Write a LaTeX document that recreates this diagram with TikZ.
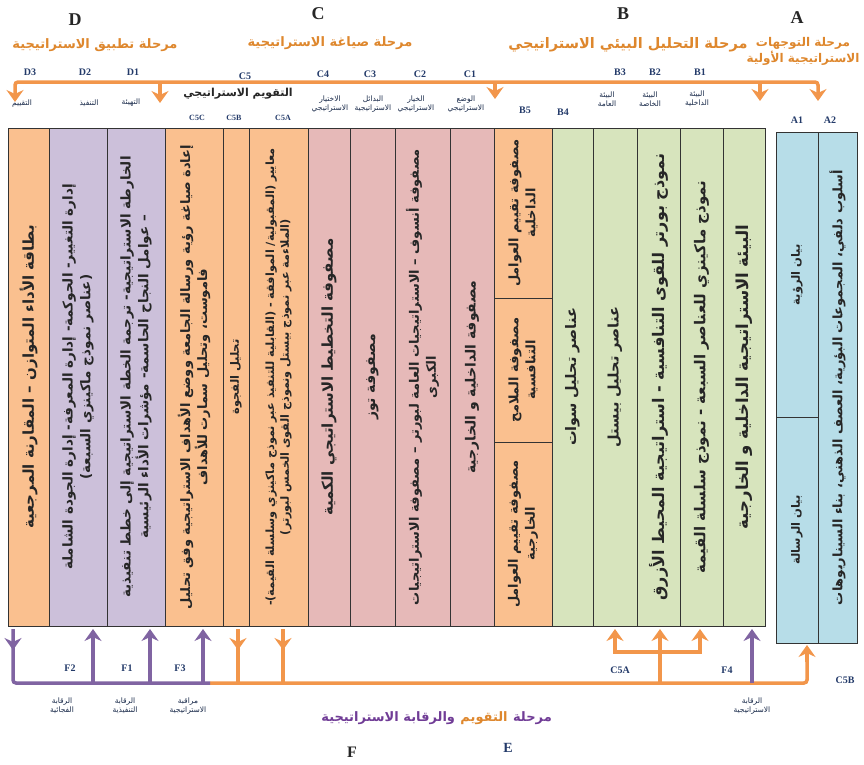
\documentclass[tikz,border=0pt]{standalone}
\usepackage{fontspec}
\setmainfont{Liberation Serif}
\newfontfamily\arabicfont[Script=Arabic]{DejaVu Sans}
\TeXXeTstate=1
\usepackage{tikz}
\usetikzlibrary{arrows.meta,positioning,decorations.markings}

\definecolor{Peach}{RGB}{250,192,143}
\definecolor{Lilac}{RGB}{204,192,218}
\definecolor{Rose}{RGB}{230,185,184}
\definecolor{Sage}{RGB}{215,228,189}
\definecolor{Sky}{RGB}{183,221,232}
\definecolor{FlowOrange}{RGB}{242,150,75}
\definecolor{FlowPurple}{RGB}{128,100,162}
\definecolor{TitleOrange}{RGB}{222,135,45}
\definecolor{TitlePurple}{RGB}{112,60,150}
\definecolor{Navy}{RGB}{35,58,105}

\newcommand\ar[1]{\beginR #1\endR}
\newcommand\cellfont[1]{\arabicfont\bfseries\fontsize{#1}{\dimexpr #1pt*13/10\relax}\selectfont}

\begin{document}
\begin{tikzpicture}[x=1pt, y=-1pt,
  Cell/.style={draw=black!80, line width=0.9pt, rotate=90, inner sep=2pt, align=center, text=black!85},
  Phase/.style={font=\arabicfont\bfseries\fontsize{13}{16}\selectfont, text=TitleOrange, align=center, inner sep=1pt},
  Letter/.style={font=\bfseries\fontsize{18}{20}\selectfont, text=black!85},
  Tag/.style={font=\bfseries\fontsize{10}{12}\selectfont, text=Navy, inner sep=1pt},
  Note/.style={font=\arabicfont\fontsize{7.5}{9}\selectfont, text=Navy!70!black, align=center, inner sep=1pt},
  Flow/.style={line width=3.5pt, draw=FlowOrange, -{Stealth[length=12pt,width=17pt,inset=4pt]}},
  FlowLine/.style={line width=3.5pt, draw=FlowOrange},
  FlowMark/.style={line width=3.5pt, draw=FlowOrange, postaction={decorate},
    decoration={markings, mark=at position 21pt with {\arrow{Stealth[length=12pt,width=17pt,inset=4pt]}}}}]

\useasboundingbox (0,0) rectangle (864,764);

% main table
\foreach \xa/\xb/\clr/\fs/\name/\txt in {
  8/49/Peach/15/d3/{\ar{بطاقة الأداء المتوازن – المقارنة المرجعية}},
  49/107/Lilac/13.5/d2/{\ar{إدارة التغيير- الحوكمة- إدارة المعرفة- إدارة الجودة الشاملة}\\\ar{(عناصر نموذج ماكينزي السبعة)}},
  107/165/Lilac/13.5/d1/{\ar{الخارطة الاستراتيجية- ترجمة الخطة الاستراتيجية إلى خطط تنفيذية}\\\ar{– عوامل النجاح الحاسمة- مؤشرات الأداء الرئيسية}},
  165/223/Peach/13/c5c/{\ar{إعادة صياغة رؤية ورسالة الجامعة ووضع الأهداف الاستراتيجية وفق تحليل}\\\ar{فاموست، وتحليل سمارت للأهداف}},
  223/249/Peach/11.5/c5b/{\ar{تحليل الفجوة}},
  249/308/Peach/11.3/c5a/{\ar{معايير (المقبولية/ الموافقة - (القابلية للتنفيذ عبر نموذج ماكينزي وسلسلة القيمة)-}\\\ar{(الملاءمة عبر نموذج بيستل ونموذج القوى الخمس لبورتر)}},
  308/350/Rose/15/c4/{\ar{مصفوفة التخطيط الاستراتيجي الكمية}},
  350/395/Rose/14/c3/{\ar{مصفوفة توز}},
  395/450/Rose/13/c2/{\ar{مصفوفة أنسوف – الاستراتيجيات العامة لبورتر – مصفوفة الاستراتيجيات}\\\ar{الكبرى}},
  450/494/Rose/14/c1/{\ar{مصفوفة الداخلية و الخارجية}},
  552/593/Sage/14.5/b4/{\ar{عناصر تحليل سوات}},
  593/637/Sage/14.5/b3/{\ar{عناصر تحليل بيستل}},
  637/680/Sage/16/b2/{\ar{نموذج بورتر للقوى التنافسية -  استراتيجية المحيط الأزرق}},
  680/723/Sage/15/b1/{\ar{نموذج ماكينزي للعناصر السبعة - نموذج سلسلة القيمة}},
  723/765/Sage/16.5/b0/{\ar{البيئة الاستراتيجية الداخلية و الخارجية}}} {
  \pgfmathsetmacro\w{\xb-\xa}
  \pgfmathsetmacro\xm{(\xa+\xb)/2}
  \node [Cell, fill=\clr, font=\cellfont{\fs}, minimum width=498pt, minimum height=\w pt] (\name) at (\xm, 377) {\txt};
}

% split columns
\foreach \yc/\h/\name/\txt in {
  213/170/b5a/{\ar{مصفوفة تقييم العوامل}\\\ar{الداخلية}},
  370/144/b5b/{\ar{مصفوفة الملامح}\\\ar{التنافسية}},
  534/184/b5c/{\ar{مصفوفة تقييم العوامل}\\\ar{الخارجية}}} {
  \node [Cell, fill=Peach, font=\cellfont{13}, minimum width=\h pt, minimum height=58pt] (\name) at (523, \yc) {\txt};
}
\node [Cell, fill=Sky, font=\cellfont{11.5}, minimum width=285pt, minimum height=42pt] (a1v) at (797, 274.5) {\ar{بيان الرؤية}};
\node [Cell, fill=Sky, font=\cellfont{11.5}, minimum width=226pt, minimum height=42pt] (a1m) at (797, 530) {\ar{بيان الرسالة}};
\node [Cell, fill=Sky, font=\cellfont{13}, minimum width=511pt, minimum height=39pt] (a2) at (837.5, 387.5) {\ar{أسلوب دلفي، المجموعات البؤرية، العصف الذهني، بناء السيناريوهات}};

% phase titles
\node [Letter] (lD) at (75, 20) {D};
\node [Phase] (pD) at (95, 45) {\ar{مرحلة تطبيق الاستراتيجية}};
\node [Letter] (lC) at (318, 14) {C};
\node [Phase] (pC) at (330, 43) {\ar{مرحلة صياغة الاستراتيجية}};
\node [Letter] (lB) at (623, 14) {B};
\node [Phase, font=\arabicfont\bfseries\fontsize{14.5}{17}\selectfont] (pB) at (628, 45) {\ar{مرحلة التحليل البيئي الاستراتيجي}};
\node [Letter] (lA) at (797, 18) {A};
\node [Phase, font=\arabicfont\bfseries\fontsize{12}{16}\selectfont] (pA) at (803, 51) {\ar{مرحلة التوجهات}\\\ar{الاستراتيجية الأولية}};

\foreach \t/\px/\py in {D3/30/72, D2/85/72, D1/133/72, C5/245/76, C4/323/74, C3/370/74, C2/420/74, C1/470/74,
  B3/620/72, B2/655/72, B1/700/72, B5/525/110, B4/563/112, A1/797/120, A2/830/120} {
  \node [Tag] (t\t) at (\px, \py) {\t};
}
\foreach \t/\px in {C5C/197, C5B/234, C5A/283} {
  \node [Tag, font=\bfseries\fontsize{8}{10}\selectfont] (t\t) at (\px, 118) {\t};
}

% small labels under the top arrow
\node [Note] (nD3) at (22, 104) {\ar{التقييم}};
\node [Note] (nD2) at (89, 103) {\ar{التنفيذ}};
\node [Note] (nD1) at (131, 103) {\ar{التهيئة}};
\node [Note, font=\arabicfont\bfseries\fontsize{11}{13}\selectfont, text=black!85] (nC5) at (238, 94) {\ar{التقويم الاستراتيجي}};
\node [Note] (nC4) at (330, 104) {\ar{الاختيار}\\\ar{الاستراتيجي}};
\node [Note] (nC3) at (373, 104) {\ar{البدائل}\\\ar{الاستراتيجية}};
\node [Note] (nC2) at (416, 104) {\ar{الخيار}\\\ar{الاستراتيجي}};
\node [Note] (nC1) at (466, 104) {\ar{الوضع}\\\ar{الاستراتيجي}};
\node [Note] (nB3) at (607, 99) {\ar{البيئة}\\\ar{العامة}};
\node [Note] (nB2) at (650, 99) {\ar{البيئة}\\\ar{الخاصة}};
\node [Note] (nB1) at (697, 99) {\ar{البيئة}\\\ar{الداخلية}};

% top flow
\coordinate (topL) at (15, 82);
\coordinate (topR) at (818, 82);
\coordinate (tipD) at (15, 102);
\coordinate (tipA2) at (818, 101);
\coordinate (tipD1) at (160, 103);
\coordinate (tipC) at (495, 99);
\coordinate (tipA1) at (760, 101);
\draw [Flow, {Stealth[length=12pt,width=17pt,inset=4pt]}-{Stealth[length=12pt,width=17pt,inset=4pt]}, rounded corners=3pt] (tipD) -- (topL) -- (topR) -- (tipA2);
\draw [Flow] (160, 82) -- (tipD1);
\draw [Flow] (495, 82) -- (tipC);
\draw [Flow] (760, 82) -- (tipA1);

% bottom flow
\coordinate (botL) at (13, 683);
\coordinate (botM) at (210, 683);
\coordinate (botR) at (807, 683);
\coordinate (tipC5B) at (807, 645);
\draw [FlowLine, rounded corners=3pt] (botM) -- (botR) -- (807, 660);
\draw [Flow] (807, 662) -- (tipC5B);
\draw [FlowMark, draw=FlowPurple, rounded corners=3pt] (13, 629) -- (botL) -- (botM);
\foreach \px in {238, 283} {
  \draw [FlowMark] (\px, 629) -- (\px, 683);
}
\foreach \px in {93, 150, 203} {
  \draw [Flow, draw=FlowPurple] (\px, 683) -- (\px, 629);
}
\draw [Flow, draw=FlowPurple] (752, 683) -- (752, 629);
\draw [FlowLine] (660, 683) -- (660, 652);
\draw [FlowLine] (613, 652) -- (702, 652);
\foreach \px in {615, 660, 700} {
  \draw [Flow] (\px, 652) -- (\px, 629);
}

\foreach \t/\px/\py in {F2/70/668, F1/127/668, F3/180/668, C5A/620/670, F4/727/670, C5B/845/680} {
  \node [Tag] (b\t) at (\px, \py) {\t};
}
\node [Note] (nF2) at (62, 706) {\ar{الرقابة}\\\ar{الفجائية}};
\node [Note] (nF1) at (125, 706) {\ar{الرقابة}\\\ar{التنفيذية}};
\node [Note] (nF3) at (188, 706) {\ar{مراقبة}\\\ar{الاستراتيجية}};
\node [Note] (nF4) at (752, 706) {\ar{الرقابة}\\\ar{الاستراتيجية}};

% bottom title
\node [Phase, text=TitlePurple, anchor=east] (pF1) at (553, 718) {\ar{مرحلة}};
\node [Phase, anchor=east, left=3pt of pF1] (pF2) {\ar{التقويم}};
\node [Phase, text=TitlePurple, anchor=east, left=3pt of pF2] (pF3) {\ar{والرقابة الاستراتيجية}};
\node [Letter, font=\bfseries\fontsize{16}{18}\selectfont] (lF) at (352, 752) {F};
\node [Letter, font=\bfseries\fontsize{14}{16}\selectfont, text=Navy] (lE) at (508, 748) {E};
\end{tikzpicture}
\end{document}
